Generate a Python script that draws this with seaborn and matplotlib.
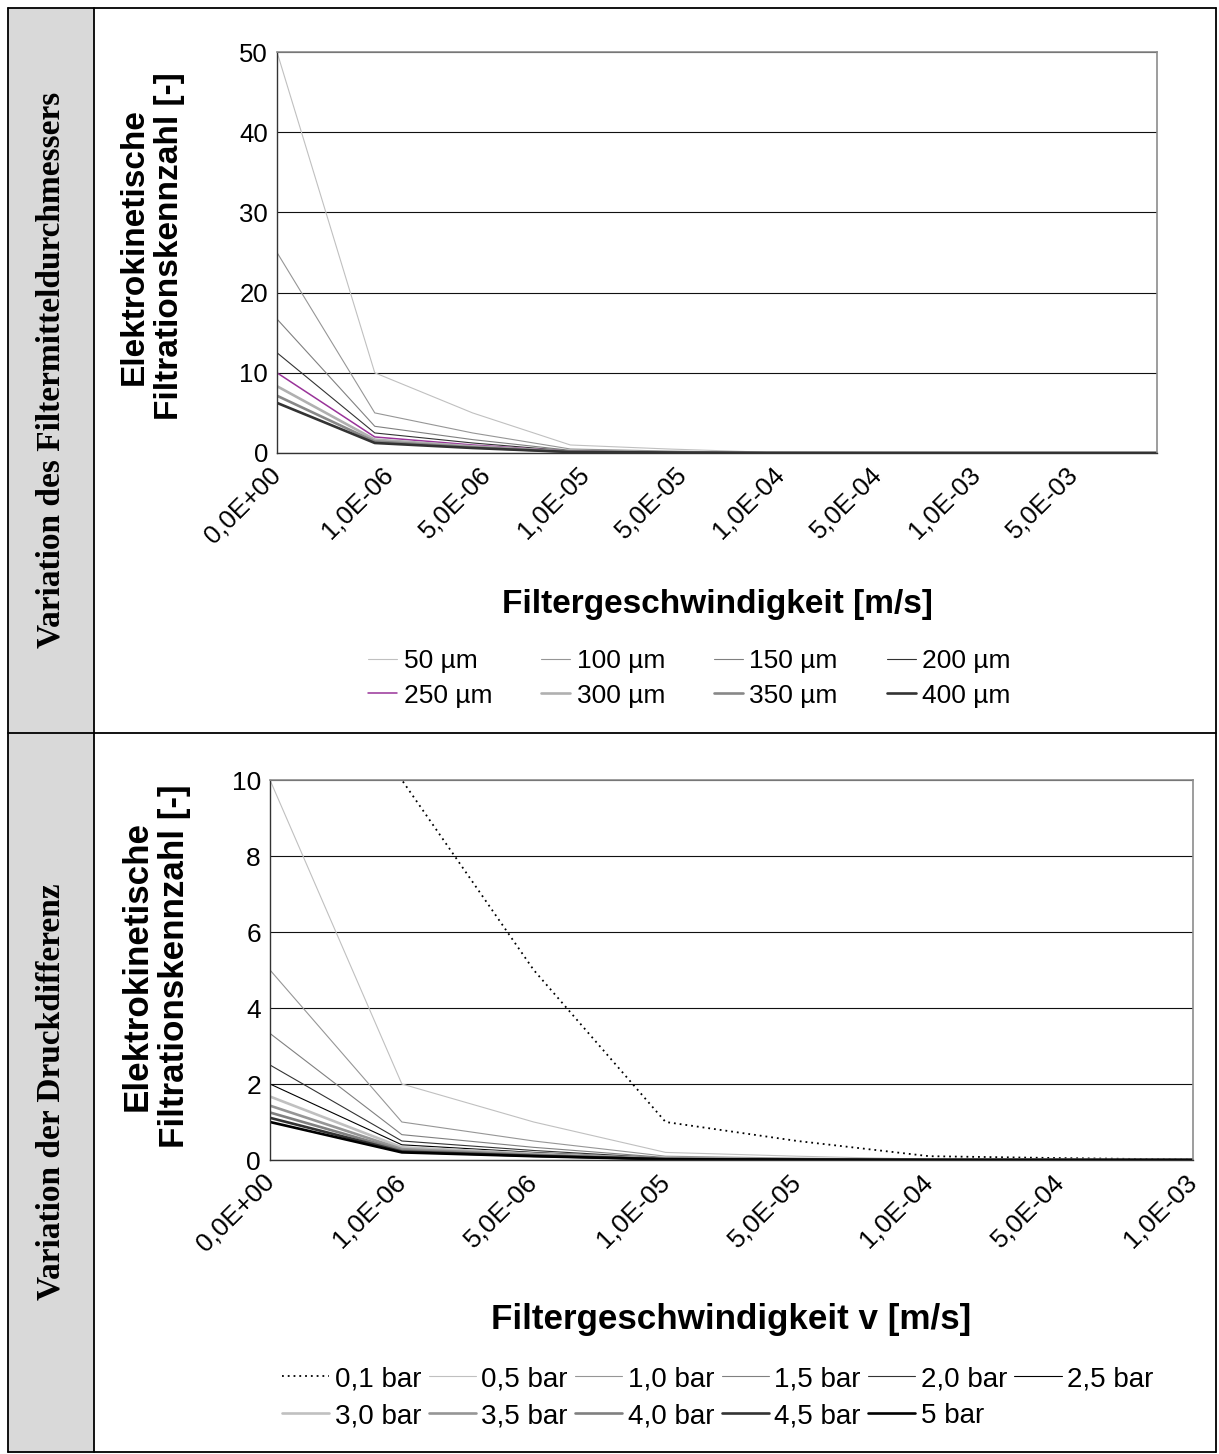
import numpy as np
import pandas as pd
import matplotlib
matplotlib.use("Agg")
import matplotlib.pyplot as plt
import matplotlib.transforms as mtransforms
from matplotlib.lines import Line2D
from matplotlib.patches import Rectangle
import seaborn as sns

# ---------------- data ----------------
speed_labels_top = ["0,0E+00", "1,0E-06", "5,0E-06", "1,0E-05", "5,0E-05",
                    "1,0E-04", "5,0E-04", "1,0E-03", "5,0E-03", ""]
diam_names = ["50 µm", "100 µm", "150 µm", "200 µm",
              "250 µm", "300 µm", "350 µm", "400 µm"]
d50 = [50, 10, 5, 1, 0.5, 0.1, 0.05, 0.01, 0.005, 0.001]
d100 = [25, 5, 2.5, 0.5, 0.25, 0.05, 0.025, 0.005, 0.0025, 0.0005]
d150 = [16.7, 3.33, 1.67, 0.333, 0.167, 0.0333, 0.0167, 0.00333, 0.00167, 0.000333]
d200 = [12.5, 2.5, 1.25, 0.25, 0.125, 0.025, 0.0125, 0.0025, 0.00125, 0.00025]
d250 = [10, 2, 1, 0.2, 0.1, 0.02, 0.01, 0.002, 0.001, 0.0002]
d300 = [8.33, 1.67, 0.833, 0.167, 0.0833, 0.0167, 0.00833, 0.00167, 0.000833, 0.000167]
d350 = [7.14, 1.43, 0.714, 0.143, 0.0714, 0.0143, 0.00714, 0.00143, 0.000714, 0.000143]
d400 = [6.25, 1.25, 0.625, 0.125, 0.0625, 0.0125, 0.00625, 0.00125, 0.000625, 0.000125]
diam_values = [d50, d100, d150, d200, d250, d300, d350, d400]

speed_labels_bot = ["0,0E+00", "1,0E-06", "5,0E-06", "1,0E-05",
                    "5,0E-05", "1,0E-04", "5,0E-04", "1,0E-03"]
press_names = ["0,1 bar", "0,5 bar", "1,0 bar", "1,5 bar", "2,0 bar", "2,5 bar",
               "3,0 bar", "3,5 bar", "4,0 bar", "4,5 bar", "5 bar"]
p01 = [50, 10, 5, 1, 0.5, 0.1, 0.05, 0.01]
p05 = [10, 2, 1, 0.2, 0.1, 0.02, 0.01, 0.002]
p10 = [5, 1, 0.5, 0.1, 0.05, 0.01, 0.005, 0.001]
p15 = [3.33, 0.667, 0.333, 0.0667, 0.0333, 0.00667, 0.00333, 0.000667]
p20 = [2.5, 0.5, 0.25, 0.05, 0.025, 0.005, 0.0025, 0.0005]
p25 = [2.0, 0.4, 0.2, 0.04, 0.02, 0.004, 0.002, 0.0004]
p30 = [1.67, 0.333, 0.167, 0.0333, 0.0167, 0.00333, 0.00167, 0.000333]
p35 = [1.43, 0.286, 0.143, 0.0286, 0.0143, 0.00286, 0.00143, 0.000286]
p40 = [1.25, 0.25, 0.125, 0.025, 0.0125, 0.0025, 0.00125, 0.00025]
p45 = [1.11, 0.222, 0.111, 0.0222, 0.0111, 0.00222, 0.00111, 0.000222]
p50 = [1.0, 0.2, 0.1, 0.02, 0.01, 0.002, 0.001, 0.0002]
press_values = [p01, p05, p10, p15, p20, p25, p30, p35, p40, p45, p50]

# ---------------- styles ----------------
THIN, THICK = 0.8, 1.9
diam_styles = [("#c0c0c0", THIN), ("#969696", THIN), ("#808080", THIN), ("#333333", THIN),
               ("#993399", 1.1), ("#b0b0b0", THICK), ("#888888", THICK), ("#333333", THICK)]
press_styles = [("#000000", 1.3), ("#c0c0c0", THIN), ("#969696", THIN), ("#808080", THIN),
                ("#333333", THIN), ("#000000", THIN), ("#c0c0c0", THICK), ("#969696", THICK),
                ("#808080", THICK), ("#333333", THICK), ("#000000", THICK)]

sns.set_style("white")
plt.rcParams["font.family"] = ["Liberation Sans", "DejaVu Sans"]
plt.rcParams["text.color"] = "black"
plt.rcParams["axes.labelcolor"] = "black"
plt.rcParams["xtick.color"] = "black"
plt.rcParams["ytick.color"] = "black"

W, H = 1219, 1454
fig = plt.figure(figsize=(W / 100, H / 100), dpi=100)


def fx(px):
    return px / W


def fy(py):
    return 1 - py / H


# ---------------- table frame ----------------
fig.add_artist(Rectangle((fx(8), fy(1452)), fx(94) - fx(8), fy(8) - fy(1452),
                         transform=fig.transFigure, facecolor="#d9d9d9",
                         edgecolor="none", zorder=0))
frame_kw = dict(transform=fig.transFigure, color="black", lw=1.3, zorder=5)
for (x0, y0, x1, y1) in [(8, 8, 1216, 8), (8, 733, 1216, 733), (8, 1452, 1216, 1452),
                         (8, 8, 8, 1452), (94, 8, 94, 1452), (1216, 8, 1216, 1452)]:
    fig.add_artist(Line2D([fx(x0), fx(x1)], [fy(y0), fy(y1)], **frame_kw))

side_kw = dict(rotation=90, ha="center", va="center", fontsize=24, fontweight="bold",
               color="black", family=["Liberation Serif", "DejaVu Serif"])
fig.text(fx(51), fy(370), "Variation des Filtermitteldurchmessers", **side_kw)
fig.text(fx(51), fy(1092), "Variation der Druckdifferenz", **side_kw)


def style_axes(ax, labels, ymax, ystep, tick_fs, lab_fs):
    n = len(labels)
    ax.set_xlim(0, n - 1)
    ax.set_ylim(0, ymax)
    ax.set_yticks(np.arange(0, ymax + 0.001, ystep))
    ax.set_yticklabels([f"{v:g}" for v in np.arange(0, ymax + 0.001, ystep)])
    ax.set_xticks(range(n))
    ax.set_xticklabels(labels, rotation=45, ha="right", va="center",
                       rotation_mode="anchor")
    ax.tick_params(axis="both", labelsize=tick_fs, colors="black", length=5,
                   width=0.8, direction="out")
    ax.tick_params(axis="y", pad=1.5)
    ax.tick_params(axis="x", pad=8)
    ax.yaxis.grid(True, color="#111111", lw=0.8)
    ax.xaxis.grid(False)
    ax.set_axisbelow(True)
    for side in ["top", "right"]:
        ax.spines[side].set_color("#8c8c8c")
        ax.spines[side].set_linewidth(1.2)
    for side in ["left", "bottom"]:
        ax.spines[side].set_color("#333333")
        ax.spines[side].set_linewidth(1.0)
    ax.set_ylabel("Elektrokinetische\nFiltrationskennzahl [-]", fontsize=lab_fs,
                  fontweight="bold", linespacing=1.15)
    ax.yaxis.label.set_va("center")


# ---------------- top chart ----------------
ax1 = fig.add_axes([fx(277), fy(453), fx(1157) - fx(277), fy(52) - fy(453)])
x_top = np.arange(len(speed_labels_top))
for name, vals, (col, lw) in zip(diam_names, diam_values, diam_styles):
    sns.lineplot(x=x_top, y=vals, ax=ax1, color=col, lw=lw, label=name)
style_axes(ax1, speed_labels_top, 50, 10, 18.5, 24)
ax1.set_xlabel("Filtergeschwindigkeit [m/s]", fontsize=24, fontweight="bold")
ax1.xaxis.set_label_coords(0.5, (453 - 605) / 401)
ax1.xaxis.label.set_va("center")
ax1.yaxis.set_label_coords((152 - 277) / 880, 0.515)
# category labels after the first sit slightly right of their ticks
shift = mtransforms.ScaledTranslation(15 / 100, 0, fig.dpi_scale_trans)
for lab in ax1.get_xticklabels()[1:]:
    lab.set_transform(lab.get_transform() + shift)

h1, l1 = ax1.get_legend_handles_labels()
order1 = [0, 4, 1, 5, 2, 6, 3, 7]
ax1.legend([h1[i] for i in order1], [l1[i] for i in order1], ncol=4,
           loc="upper left", bbox_to_anchor=(fx(368), fy(649)),
           bbox_transform=fig.transFigure, frameon=False, fontsize=19,
           handlelength=1.1, handletextpad=0.25, columnspacing=1.85,
           labelspacing=0.4, borderpad=0, borderaxespad=0)

# ---------------- bottom chart ----------------
ax2 = fig.add_axes([fx(270), fy(1160), fx(1193) - fx(270), fy(780) - fy(1160)])
x_bot = np.arange(len(speed_labels_bot))
for i, (name, vals, (col, lw)) in enumerate(zip(press_names, press_values, press_styles)):
    ls = (0, (1, 2.2)) if i == 0 else "-"
    sns.lineplot(x=x_bot, y=vals, ax=ax2, color=col, lw=lw, label=name, linestyle=ls)
style_axes(ax2, speed_labels_bot, 10, 2, 19, 25.2)
ax2.set_xlabel("Filtergeschwindigkeit v [m/s]", fontsize=25.2, fontweight="bold")
ax2.xaxis.set_label_coords(0.5, (1160 - 1320) / 380)
ax2.xaxis.label.set_va("center")
ax2.yaxis.set_label_coords((156 - 270) / 923, 0.51)

h2, l2 = ax2.get_legend_handles_labels()
order2 = [0, 6, 1, 7, 2, 8, 3, 9, 4, 10, 5]
ax2.legend([h2[i] for i in order2], [l2[i] for i in order2], ncol=6,
           loc="upper left", bbox_to_anchor=(fx(282), fy(1366)),
           bbox_transform=fig.transFigure, frameon=False, fontsize=20,
           handlelength=1.7, handletextpad=0.2, columnspacing=0.26,
           labelspacing=0.4, borderpad=0, borderaxespad=0)

fig.savefig("out.png", dpi=100)
